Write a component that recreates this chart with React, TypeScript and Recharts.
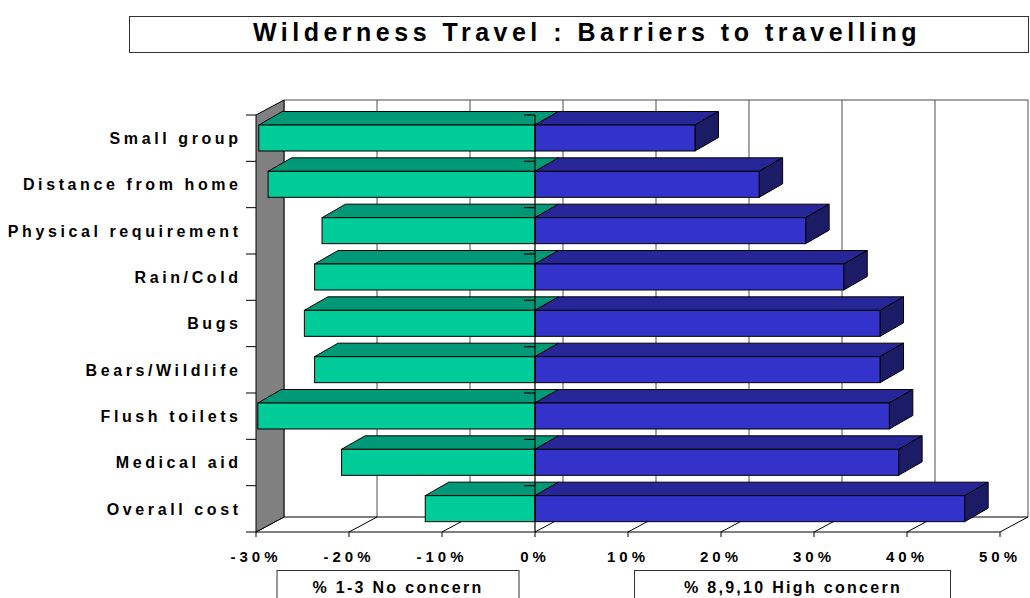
import React from 'react';
import { BarChart, Bar, XAxis, YAxis, CartesianGrid, ReferenceArea, ReferenceLine } from 'recharts';

const categories = [
  'Small group',
  'Distance from home',
  'Physical requirement',
  'Rain/Cold',
  'Bugs',
  'Bears/Wildlife',
  'Flush toilets',
  'Medical aid',
  'Overall cost',
];
// share of respondents rating 1-3 (plotted to the left of zero)
const noConcern = [-29.7, -28.7, -22.9, -23.7, -24.8, -23.7, -29.8, -20.8, -11.8];
// share of respondents rating 8, 9 or 10
const highConcern = [17.2, 24.1, 29.1, 33.2, 37.1, 37.1, 38.1, 39.1, 46.2];
const percentTicks = [-30, -20, -10, 0, 10, 20, 30, 40, 50];
const seriesNames = ['% 1-3 No concern', '% 8,9,10 High concern'];
const title = 'Wilderness Travel : Barriers to travelling';

const rows = categories.map((name, i) => ({
  name,
  noConcern: noConcern[i],
  highConcern: highConcern[i],
}));

const FONT = '"Liberation Sans", Arial, Helvetica, sans-serif';

// depth of the chart box (walls/floor) and of the bars
const WALL_DX = 28;
const WALL_DY = 15;
const BAR_DX = 23.5;
const BAR_DY = 13.5;

const makeBox = (front: string, top: string, side: string | null) => (props: any) => {
  const { x, y, width, height } = props;
  if (width == null || height == null) return <g />;
  const left = Math.min(x, x + width);
  const w = Math.abs(width);
  const right = left + w;
  const bottom = y + height;
  return (
    <g>
      <polygon
        points={`${left},${y} ${left + BAR_DX},${y - BAR_DY} ${right + BAR_DX},${y - BAR_DY} ${right},${y}`}
        fill={top}
        stroke="#000"
        strokeWidth={1}
      />
      {side && (
        <polygon
          points={`${right},${y} ${right + BAR_DX},${y - BAR_DY} ${right + BAR_DX},${bottom - BAR_DY} ${right},${bottom}`}
          fill={side}
          stroke="#000"
          strokeWidth={1}
        />
      )}
      <rect x={left} y={y} width={w} height={height} fill={front} stroke="#000" strokeWidth={1} />
    </g>
  );
};

const GreenBox = makeBox('#00CC99', '#009977', null);
const BlueBox = makeBox('#3333CC', '#262699', '#1C1C66');

// back wall gridline plus the floor diagonal for each x tick
const WallLine = (p: any) => (
  <g key={p.key}>
    <line x1={p.x1 + WALL_DX} y1={p.y1 - WALL_DY} x2={p.x2 + WALL_DX} y2={p.y2 - WALL_DY} stroke="#4d4d4d" strokeWidth={1} />
    <line x1={p.x2} y1={p.y2} x2={p.x2 + WALL_DX} y2={p.y2 - WALL_DY} stroke="#000" strokeWidth={1} />
  </g>
);

// grey side wall and the top / floor edges of the back wall
const Frame = (p: any) => {
  const { x, y, width, height } = p;
  const b = y + height;
  return (
    <g>
      <line x1={x + WALL_DX} y1={y - WALL_DY} x2={x + width + WALL_DX} y2={y - WALL_DY} stroke="#4d4d4d" strokeWidth={1} />
      <line x1={x + WALL_DX} y1={b - WALL_DY} x2={x + width + WALL_DX} y2={b - WALL_DY} stroke="#000" strokeWidth={1} />
      <polygon
        points={`${x},${y} ${x + WALL_DX},${y - WALL_DY} ${x + WALL_DX},${b - WALL_DY} ${x},${b}`}
        fill="#808080"
        stroke="#000"
        strokeWidth={1}
      />
    </g>
  );
};

// category axis drawn through 0%, tick marks on band boundaries
const ZeroAxis = (p: any) => {
  const top = Math.min(p.y1, p.y2);
  const bottom = Math.max(p.y1, p.y2);
  const band = (bottom - top) / categories.length;
  return (
    <g>
      <line x1={p.x1} y1={top} x2={p.x2} y2={bottom} stroke="#000" strokeWidth={1.2} />
      {categories.map((c, i) => (
        <line key={c} x1={p.x1 - 11} y1={top + i * band} x2={p.x1} y2={top + i * band} stroke="#000" strokeWidth={1.2} />
      ))}
    </g>
  );
};

const CategoryTick = (props: any) => {
  const { x, y, payload, index } = props;
  const half = payload.offset || 23.17;
  const axisX = x + 18;
  return (
    <g>
      <line x1={axisX - 10} y1={y - half} x2={axisX} y2={y - half} stroke="#000" />
      {index === categories.length - 1 && (
        <line x1={axisX - 10} y1={y + half} x2={axisX} y2={y + half} stroke="#000" />
      )}
      <text
        x={x + 3.6}
        y={y}
        dy="0.36em"
        textAnchor="end"
        fontFamily={FONT}
        fontSize={16}
        fontWeight="bold"
        letterSpacing={3.6}
        fill="#000"
      >
        {payload.value}
      </text>
    </g>
  );
};

const PercentTick = (props: any) => {
  const { x, y, payload } = props;
  return (
    <text
      x={x}
      y={y + 22.5}
      textAnchor="middle"
      fontFamily={FONT}
      fontSize={15}
      fontWeight="bold"
      letterSpacing={4}
      fill="#000"
    >
      {`${payload.value}%`}
    </text>
  );
};

export default function App() {
  return (
    <div style={{ position: 'absolute', left: 0, top: 0, width: 1030, height: 598, background: '#fff', fontFamily: FONT }}>
      <BarChart
        width={1030}
        height={598}
        data={rows}
        layout="vertical"
        stackOffset="sign"
        margin={{ top: 115, right: 30, bottom: 26, left: 6 }}
      >
        <CartesianGrid horizontal={false} vertical={WallLine} />
        <ReferenceArea x1={-30} x2={50} shape={Frame} ifOverflow="visible" />
        <XAxis
          type="number"
          domain={[-30, 50]}
          ticks={percentTicks}
          interval={0}
          height={40}
          tickSize={5}
          tickMargin={2}
          axisLine={{ stroke: '#000' }}
          tickLine={{ stroke: '#000' }}
          tick={PercentTick}
        />
        <YAxis
          type="category"
          dataKey="name"
          width={250}
          interval={0}
          axisLine={false}
          tickLine={false}
          tickSize={10}
          tickMargin={8}
          tick={CategoryTick}
        />
        <Bar dataKey="noConcern" name={seriesNames[0]} stackId="s" barSize={26} shape={GreenBox} isAnimationActive={false} />
        <Bar dataKey="highConcern" name={seriesNames[1]} stackId="s" barSize={26} shape={BlueBox} isAnimationActive={false} />
        <ReferenceLine x={0} shape={ZeroAxis} ifOverflow="visible" />
      </BarChart>

      <svg width={1030} height={598} style={{ position: 'absolute', left: 0, top: 0, pointerEvents: 'none' }}>
        <rect x={129.5} y={16.5} width={899} height={36} fill="none" stroke="#333" strokeWidth={1} />
        <text x={587} y={40.7} textAnchor="middle" fontFamily={FONT} fontSize={25} fontWeight="bold" letterSpacing={4.5} fill="#000">
          {title}
        </text>
        <rect x={277} y={570.5} width={242} height={40} fill="#fff" stroke="#333" strokeWidth={1} />
        <text x={398} y={593.3} textAnchor="middle" fontFamily={FONT} fontSize={16} fontWeight="bold" letterSpacing={2.3} fill="#000">
          {seriesNames[0]}
        </text>
        <rect x={634.5} y={570.5} width={316} height={40} fill="#fff" stroke="#333" strokeWidth={1} />
        <text x={793} y={593.3} textAnchor="middle" fontFamily={FONT} fontSize={16} fontWeight="bold" letterSpacing={2.3} fill="#000">
          {seriesNames[1]}
        </text>
      </svg>
    </div>
  );
}
